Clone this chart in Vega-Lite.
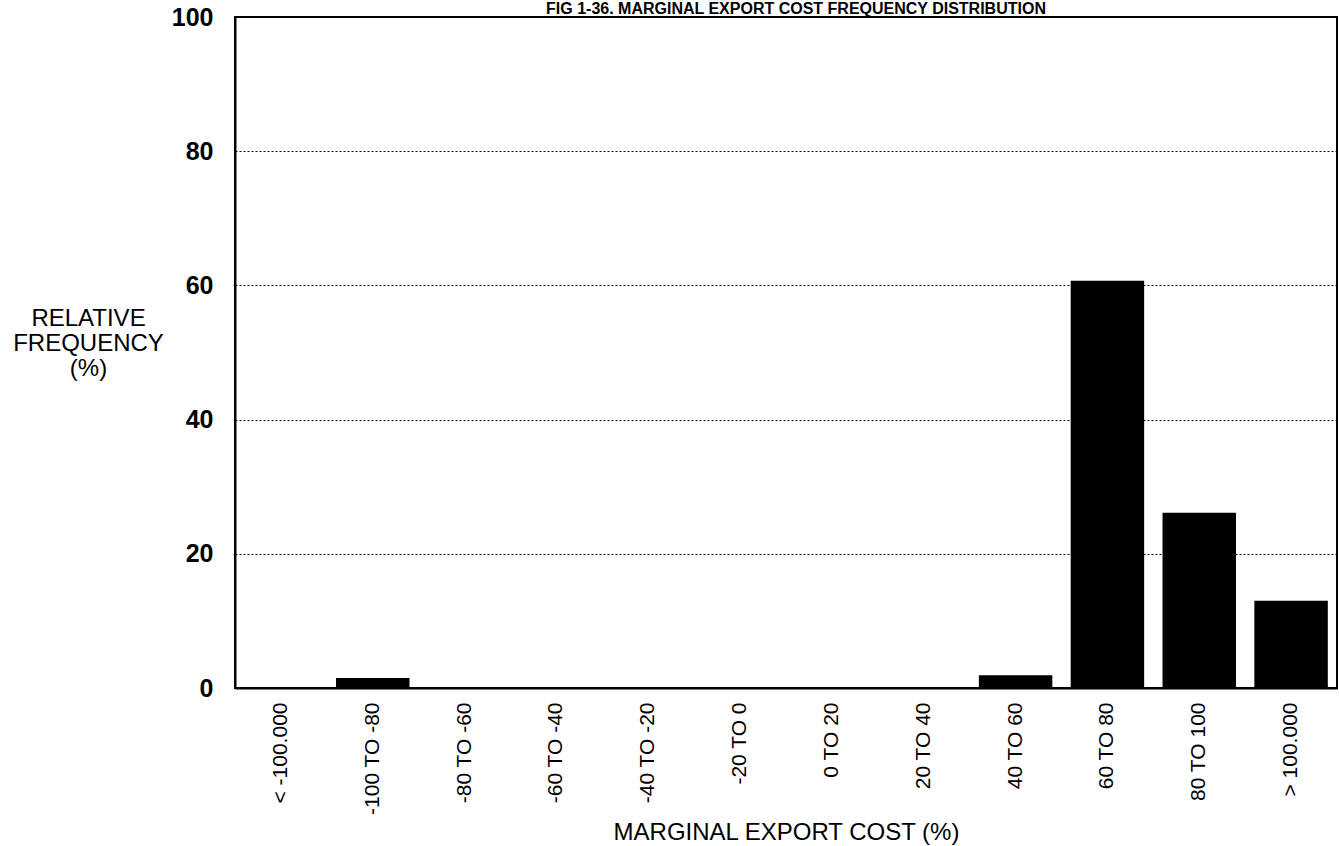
{
  "$schema": "https://vega.github.io/schema/vega-lite/v6.json",
  "width": 1102,
  "height": 671,
  "autosize": {"type": "none"},
  "padding": {"left": 235, "top": 17, "right": 2, "bottom": 158},
  "background": "white",
  "title": {
    "text": "FIG 1-36.  MARGINAL  EXPORT  COST  FREQUENCY  DISTRIBUTION",
    "anchor": "middle",
    "font": "Liberation Sans",
    "fontSize": 16,
    "fontWeight": "bold",
    "color": "black",
    "offset": 0,
    "baseline": "bottom",
    "dx": 10,
    "dy": 28
  },
  "data": {
    "values": [
      {"bin": "< -100.000", "freq": 0},
      {"bin": "-100 TO -80", "freq": 1.5},
      {"bin": "-80 TO -60", "freq": 0},
      {"bin": "-60 TO -40", "freq": 0},
      {"bin": "-40 TO -20", "freq": 0},
      {"bin": "-20 TO 0", "freq": 0},
      {"bin": "0 TO 20", "freq": 0},
      {"bin": "20 TO 40", "freq": 0},
      {"bin": "40 TO 60", "freq": 1.9},
      {"bin": "60 TO 80", "freq": 60.7},
      {"bin": "80 TO 100", "freq": 26.1},
      {"bin": "> 100.000", "freq": 13.0}
    ]
  },
  "mark": {"type": "bar", "color": "black"},
  "encoding": {
    "x": {
      "field": "bin",
      "type": "nominal",
      "sort": null,
      "scale": {"paddingInner": 0.2, "paddingOuter": 0.1},
      "axis": {
        "title": "MARGINAL EXPORT COST (%)",
        "titleFont": "Liberation Sans",
        "titleFontSize": 24,
        "titleFontWeight": "normal",
        "titleColor": "black",
        "titleBaseline": "middle",
        "titleY": 144,
        "labelAngle": -90,
        "labelAlign": "right",
        "labelBaseline": "middle",
        "labelFont": "Liberation Sans",
        "labelFontSize": 21,
        "labelColor": "black",
        "labelPadding": 14,
        "ticks": false,
        "domainColor": "black",
        "domainWidth": 2,
        "grid": false
      }
    },
    "y": {
      "field": "freq",
      "type": "quantitative",
      "scale": {"domain": [0, 100], "nice": false},
      "axis": {
        "values": [0, 20, 40, 60, 80, 100],
        "title": ["RELATIVE", "FREQUENCY", "(%)"],
        "titleAngle": 0,
        "titleX": -147,
        "titleY": 289,
        "titleAlign": "center",
        "titleBaseline": "top",
        "titleLineHeight": 25,
        "titleFont": "Liberation Sans",
        "titleFontSize": 24,
        "titleFontWeight": "normal",
        "titleColor": "black",
        "labelFont": "Liberation Sans",
        "labelFontSize": 25,
        "labelFontWeight": "bold",
        "labelColor": "black",
        "labelPadding": 22,
        "ticks": false,
        "domainColor": "black",
        "domainWidth": 2,
        "grid": true,
        "gridColor": "black",
        "gridDash": [2, 2],
        "gridWidth": 1.2,
        "gridOpacity": 1
      }
    }
  },
  "config": {
    "view": {"stroke": "black", "strokeWidth": 2}
  }
}
